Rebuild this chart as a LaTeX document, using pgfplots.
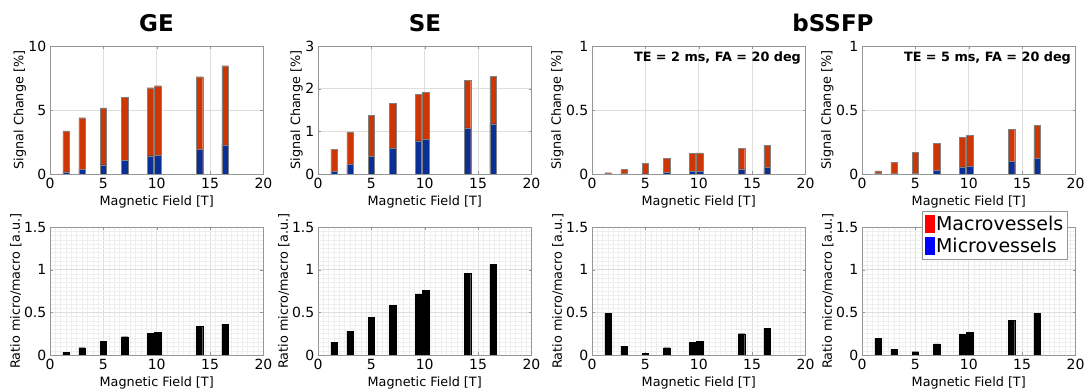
\documentclass[border=0pt]{standalone}
\usepackage{pgfplots}
\pgfplotsset{compat=1.18}
\usepackage{fontspec}
\setmainfont{DejaVu Sans}
\definecolor{macro}{RGB}{206,54,4}
\definecolor{micro}{RGB}{8,48,150}
\definecolor{gridc}{RGB}{222,222,222}
\definecolor{minorc}{RGB}{238,238,238}
\definecolor{axc}{RGB}{150,150,150}
\newcommand{\fs}{\fontsize{12.8}{14}\selectfont}
\newcommand{\ts}{\fontsize{14}{16}\selectfont}
\pgfplotsset{
  panel/.style={
    scale only axis, width=213.5pt, height=128pt,
    xmin=0, xmax=20, xtick={0,5,10,15,20},
    /pgf/number format/assume math mode=true,
    ticklabel style={font=\ts},
    xticklabel style={inner sep=0pt, yshift=-4pt},
    yticklabel style={inner sep=0pt, xshift=-3.5pt},
    label style={font=\fs},
    xlabel={Magnetic Field [T]},
    xlabel style={at={(axis description cs:0.5,-0.219)}, anchor=center},
    ylabel style={yshift=-1pt},
    grid=major, major grid style={gridc, line width=0.6pt},
    axis line style={axc, line width=0.6pt},
    tick style={axc}, tick align=inside, major tick length=3pt,
    every axis plot/.append style={bar shift=0pt, bar width=0.6},
    anchor=south west,
  },
  toprow/.style={panel, ymin=0, ylabel={Signal Change [\%]}},
  botrow/.style={panel, ymin=0, ymax=1.5, ytick={0,0.5,1,1.5},
    ylabel={Ratio micro/macro [a.u.]},
    minor x tick num=9, minor y tick num=9, grid=both,
    minor grid style={minorc, line width=0.4pt}, minor tick length=0pt},
  macbar/.style={ybar, fill=macro, draw=black!50, line width=0.3pt},
  micbar/.style={ybar, fill=micro, draw=black!50, line width=0.3pt},
  ratbar/.style={ybar, fill=black, draw=black, line width=0.3pt},
}
\begin{document}
\begin{tikzpicture}[x=1pt,y=1pt]
\useasboundingbox (0,0) rectangle (1088,391);
% ---------- top row ----------
\begin{axis}[toprow, at={(50pt,217pt)}, ymax=10, ytick={0,5,10}]
\addplot[macbar] coordinates {(1.5,3.36) (3,4.40) (5,5.16) (7,5.99) (9.4,6.74) (10.1,6.90) (14,7.60) (16.4,8.46)};
\addplot[micbar] coordinates {(1.5,0.16) (3,0.36) (5,0.73) (7,1.07) (9.4,1.43) (10.1,1.48) (14,1.95) (16.4,2.27)};
\end{axis}
\begin{axis}[toprow, at={(318pt,217pt)}, ymax=3, ytick={0,1,2,3}]
\addplot[macbar] coordinates {(1.5,0.58) (3,0.99) (5,1.37) (7,1.65) (9.4,1.86) (10.1,1.92) (14,2.19) (16.4,2.29)};
\addplot[micbar] coordinates {(1.5,0.07) (3,0.22) (5,0.42) (7,0.61) (9.4,0.78) (10.1,0.82) (14,1.08) (16.4,1.18)};
\end{axis}
\begin{axis}[toprow, at={(592pt,217pt)}, ymax=1, ytick={0,0.5,1}]
\addplot[macbar] coordinates {(1.5,0.010) (3,0.034) (5,0.081) (7,0.123) (9.4,0.160) (10.1,0.165) (14,0.199) (16.4,0.225)};
\addplot[micbar] coordinates {(1.5,0.003) (3,0.003) (5,0.001) (7,0.013) (9.4,0.023) (10.1,0.023) (14,0.040) (16.4,0.052)};
\node[anchor=north east, font=\fs\bfseries] at (rel axis cs:0.995,0.985) {TE = 2 ms, FA = 20 deg};
\end{axis}
\begin{axis}[toprow, at={(862pt,217pt)}, ymax=1, ytick={0,0.5,1}]
\addplot[macbar] coordinates {(1.5,0.024) (3,0.092) (5,0.170) (7,0.240) (9.4,0.288) (10.1,0.300) (14,0.350) (16.4,0.380)};
\addplot[micbar] coordinates {(1.5,0.004) (3,0.006) (5,0.006) (7,0.029) (9.4,0.055) (10.1,0.063) (14,0.100) (16.4,0.123)};
\node[anchor=north east, font=\fs\bfseries] at (rel axis cs:0.995,0.985) {TE = 5 ms, FA = 20 deg};
\end{axis}
% ---------- bottom row ----------
\begin{axis}[botrow, at={(50pt,36pt)}]
\addplot[ratbar] coordinates {(1.5,0.035) (3,0.086) (5,0.164) (7,0.214) (9.4,0.257) (10.1,0.265) (14,0.339) (16.4,0.362)};
\end{axis}
\begin{axis}[botrow, at={(318pt,36pt)}]
\addplot[ratbar] coordinates {(1.5,0.149) (3,0.280) (5,0.440) (7,0.580) (9.4,0.717) (10.1,0.756) (14,0.960) (16.4,1.060)};
\end{axis}
\begin{axis}[botrow, at={(592pt,36pt)}]
\addplot[ratbar] coordinates {(1.5,0.490) (3,0.100) (5,0.020) (7,0.086) (9.4,0.145) (10.1,0.164) (14,0.250) (16.4,0.310)};
\end{axis}
\begin{axis}[botrow, at={(862pt,36pt)},
  legend style={at={(rel axis cs:0.962,1.125)}, anchor=north east,
    font=\fontsize{19}{24}\selectfont, draw=axc, fill=white,
    inner xsep=2pt, inner ysep=3pt, row sep=2pt, legend cell align=left,
    /tikz/every even column/.append style={column sep=1pt}},
  legend image code/.code={\fill[#1] (1pt,-8.5pt) rectangle (10pt,8.5pt);}]
\addplot[ratbar, forget plot] coordinates {(1.5,0.192) (3,0.067) (5,0.039) (7,0.129) (9.4,0.243) (10.1,0.266) (14,0.403) (16.4,0.490)};
\addlegendimage{red}
\addlegendentry{Macrovessels}
\addlegendimage{blue}
\addlegendentry{Microvessels}
\end{axis}
% ---------- titles ----------
\node[font=\fontsize{23}{26}\selectfont\bfseries] at (156.5pt,368pt) {GE};
\node[font=\fontsize{23}{26}\selectfont\bfseries] at (425pt,368pt) {SE};
\node[font=\fontsize{23}{26}\selectfont\bfseries] at (833pt,368pt) {bSSFP};
\end{tikzpicture}
\end{document}
